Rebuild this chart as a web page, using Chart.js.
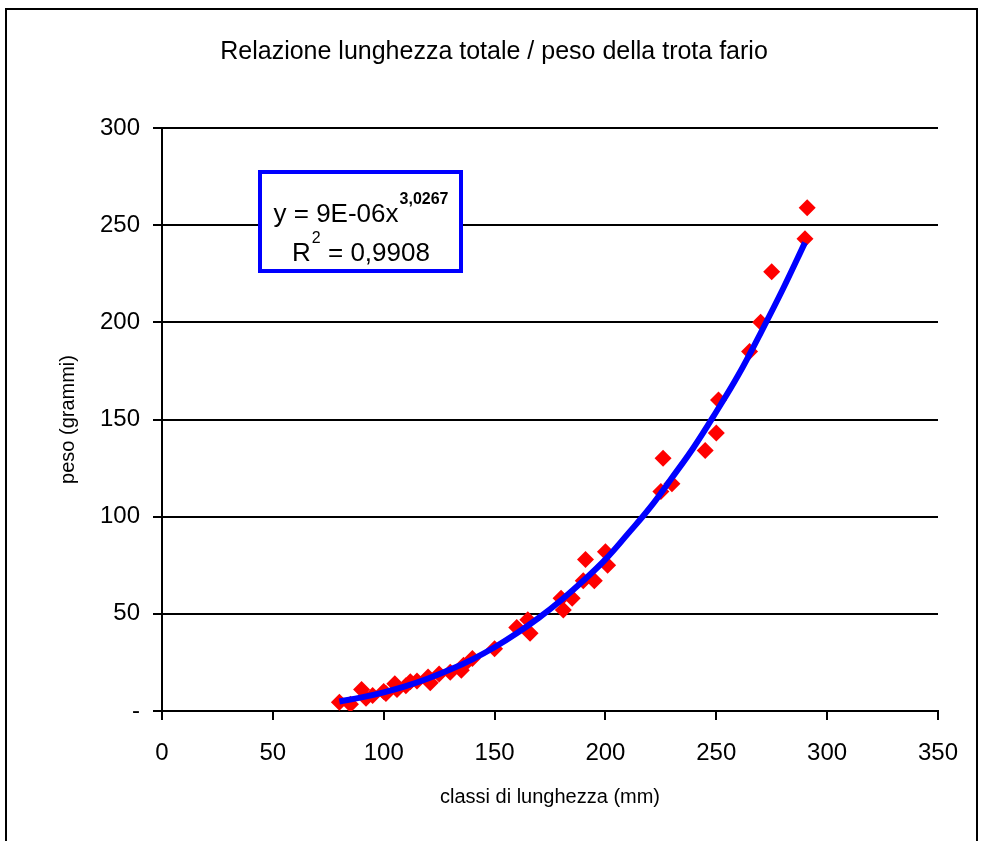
<!DOCTYPE html>
<html>
<head>
<meta charset="utf-8">
<script src="https://cdn.jsdelivr.net/npm/chart.js@4.4.1/dist/chart.umd.min.js"></script>
<style>
  html, body { margin: 0; padding: 0; background: #fff; }
  #wrap { width: 981px; height: 841px; position: relative; }
</style>
</head>
<body>
<div id="wrap"><canvas id="fishChart" width="981" height="841"></canvas></div>
<script>
// lunghezza (mm) / peso (g) — campioni misurati
const lengths = [80, 85, 90, 92, 95, 100, 101, 105, 106, 110, 112, 115, 120, 121, 125, 130, 135, 136, 140,
  150, 160, 165, 166, 180, 181, 185, 190, 191, 195, 200, 201, 225, 226, 230, 245, 250, 251, 265, 270, 275, 290, 291];
const weights = [4.5, 3.5, 11, 6.5, 8, 10, 9, 14, 11, 13, 15, 15.5, 17.5, 14.5, 19, 20, 21, 23.5, 27,
  32, 43, 47, 40, 58, 52, 58, 67, 78, 67, 82, 75, 113, 130, 117, 134, 143, 160, 185, 200, 226, 243, 259];

// linea di tendenza (potenza)
const trendX = [80, 90, 100, 110, 120, 130, 140, 150, 160, 170, 180, 190, 200, 210, 220, 230, 240, 250, 260, 270, 280, 290];
const trendY = [4.9, 7, 9.6, 12.8, 16.7, 21.3, 26.6, 32.8, 40, 48, 57, 67, 78, 91, 104.5, 120, 136, 154, 173, 194.5, 217, 241];

const xTicks = [0, 50, 100, 150, 200, 250, 300, 350];
const yTicks = [0, 50, 100, 150, 200, 250, 300];

const eqText = "y = 9E-06x";
const eqExp = "3,0267";
const r2Value = " = 0,9908";

const FONT = "'Liberation Sans', Arial, sans-serif";

const points = lengths.map((x, i) => ({ x, y: weights[i] }));
const trend = trendX.map((x, i) => ({ x, y: trendY[i] }));

// cornice + box equazione
const decorations = {
  id: "decorations",
  beforeDraw(chart) {
    const c = chart.ctx;
    c.save();
    c.fillStyle = "#fff";
    c.fillRect(0, 0, chart.width, chart.height);
    c.strokeStyle = "#000";
    c.lineWidth = 2;
    c.beginPath();
    c.moveTo(6, chart.height);
    c.lineTo(6, 9);
    c.lineTo(977, 9);
    c.lineTo(977, chart.height);
    c.stroke();
    c.restore();
  },
  afterDatasetsDraw(chart) {
    const c = chart.ctx;
    const a = chart.chartArea;
    const bx = a.left + 98, by = a.top + 44, bw = 201, bh = 99;
    c.save();
    c.fillStyle = "#fff";
    c.fillRect(bx, by, bw, bh);
    c.strokeStyle = "#0000FF";
    c.lineWidth = 4;
    c.strokeRect(bx, by, bw, bh);

    c.fillStyle = "#000";
    c.textBaseline = "alphabetic";
    c.textAlign = "left";
    // riga 1
    c.font = "26px " + FONT;
    const w1 = c.measureText(eqText).width;
    c.font = "bold 16px " + FONT;
    const w2 = c.measureText(eqExp).width;
    let tx = bx + (bw - w1 - w2) / 2;
    c.font = "26px " + FONT;
    c.fillText(eqText, tx, by + 50);
    c.font = "bold 16px " + FONT;
    c.fillText(eqExp, tx + w1 + 1, by + 32);
    // riga 2
    c.font = "26px " + FONT;
    const wR = c.measureText("R").width;
    const wV = c.measureText(r2Value).width;
    c.font = "16px " + FONT;
    const wS = c.measureText("2").width;
    tx = bx + (bw - wR - wS - wV) / 2;
    c.font = "26px " + FONT;
    c.fillText("R", tx, by + 89);
    c.font = "16px " + FONT;
    c.fillText("2", tx + wR + 1, by + 71);
    c.font = "26px " + FONT;
    c.fillText(r2Value, tx + wR + wS + 1, by + 89);
    c.restore();
  }
};

new Chart(document.getElementById("fishChart"), {
  type: "scatter",
  data: {
    datasets: [
      {
        label: "trend",
        data: trend,
        showLine: true,
        borderColor: "#0000FF",
        borderWidth: 6,
        pointRadius: 0,
        tension: 0.4,
        fill: false,
        order: 1
      },
      {
        label: "peso",
        data: points,
        backgroundColor: "#FF0000",
        borderColor: "#FF0000",
        pointStyle: "rectRot",
        pointRadius: 8.5,
        pointBorderWidth: 0,
        order: 2
      }
    ]
  },
  plugins: [decorations],
  options: {
    responsive: false,
    animation: false,
    layout: { padding: { left: 50, right: 43, top: 0, bottom: 0 } },
    scales: {
      x: {
        type: "linear",
        min: 0,
        max: 350,
        afterBuildTicks: (s) => { s.ticks = xTicks.map(v => ({ value: v })); },
        afterFit: (s) => { s.height = 130; },
        border: { color: "#000", width: 2 },
        grid: { display: true, drawOnChartArea: false, drawTicks: true, tickLength: 9, color: "#000", lineWidth: 2 },
        ticks: { color: "#000", font: { family: FONT, size: 24 }, padding: 19, maxRotation: 0 },
        title: { display: true, text: "classi di lunghezza (mm)", color: "#000", font: { family: FONT, size: 20 }, padding: { top: 0, bottom: 32 } }
      },
      y: {
        type: "linear",
        min: 0,
        max: 300,
        afterBuildTicks: (s) => { s.ticks = yTicks.map(v => ({ value: v })); },
        afterFit: (s) => { s.width = 112; },
        border: { color: "#000", width: 2 },
        grid: { color: "#000", lineWidth: 2, tickLength: 9 },
        ticks: { color: "#000", font: { family: FONT, size: 24 }, padding: 13, callback: (v) => v === 0 ? "-" : v },
        title: { display: true, text: "peso (grammi)", color: "#000", font: { family: FONT, size: 20 }, padding: { top: 6, bottom: 0 } }
      }
    },
    plugins: {
      legend: { display: false },
      tooltip: { enabled: false },
      title: {
        display: true,
        text: "Relazione lunghezza totale / peso della trota fario",
        color: "#000",
        font: { family: FONT, size: 25, weight: "normal" },
        padding: { top: 37, bottom: 61 }
      }
    }
  }
});
</script>
</body>
</html>
